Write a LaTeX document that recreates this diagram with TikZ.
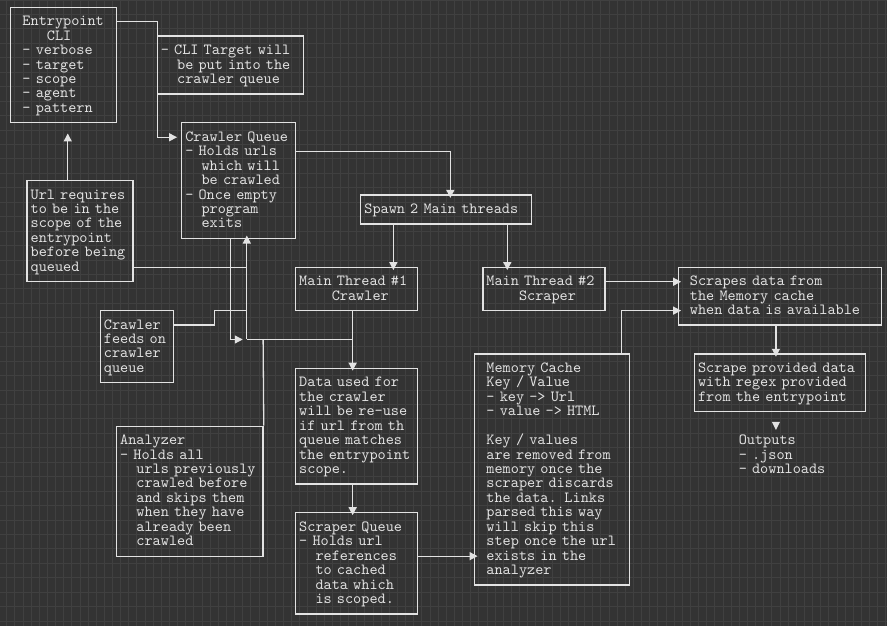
\documentclass[tikz,border=0pt]{standalone}
\usepackage{fontspec}
\newfontfamily\asciifont{lmmono10-regular.otf}
\usetikzlibrary{arrows.meta}
\definecolor{bgc}{RGB}{51,51,51}
\definecolor{gridc}{RGB}{64,64,64}
\definecolor{linec}{RGB}{226,226,226}
\definecolor{textc}{RGB}{226,226,226}
\newcommand\ls{\rule[-3.225pt]{0pt}{14.445pt}}
\newcommand\tl[1]{\hbox{\ls\smash{#1}}}
\newcommand\tli[1]{\hbox{\ls\hspace*{8.14pt}\smash{#1}}}
\newcommand\ind[1]{\hspace*{#1\dimexpr8.14pt\relax}}
\newcommand\lines[1]{\vbox{\offinterlineskip #1}}
\tikzset{
  box/.style={draw=linec, line width=1.3pt, inner xsep=3.57pt, inner ysep=0pt,
    align=left, text=textc, font=\asciifont\fontsize{15.5048pt}{14.445pt}\selectfont},
  plain/.style={inner xsep=0pt, inner ysep=0pt, align=left, text=textc,
    font=\asciifont\fontsize{15.5048pt}{14.445pt}\selectfont},
  arr/.style={draw=linec, line width=1.3pt, -{Triangle[length=8pt,width=8pt]}},
  con/.style={draw=linec, line width=1.3pt},
  gridline/.style={draw=gridc, line width=0.9pt}
}
\begin{document}
\begin{tikzpicture}[x=8.14pt, y=-14.445pt]
\useasboundingbox (-1.3231,-1.5023) rectangle (107.645,41.835);
\fill[bgc] (-1.3231,-1.5023) rectangle (107.645,41.835);
\foreach \i in {-0.5,0.5,...,107.6} \draw[gridline] (\i,-1.5023) -- (\i,41.835);
\foreach \j in {-1.5,-0.5,...,41.6} \draw[gridline] (-1.3231,\j) -- (107.645,\j);

% boxes
\node[box, text width=98.68pt, minimum height=115.56pt] (EP) at (6.5,3) {\lines{%
\tli{Entrypoint}
\tli{\ind{3}CLI}
\tli{- verbose}
\tli{- target}
\tli{- scope}
\tli{- agent}
\tli{- pattern}}};

\node[box, text width=139.38pt, minimum height=57.78pt] (CLI) at (27,3) {\lines{%
\tl{- CLI Target will}
\tl{\ind{2}be put into the}
\tl{\ind{2}crawler queue}}};

\node[box, text width=106.82pt, minimum height=115.56pt] (CQ) at (28,11) {\lines{%
\tl{Crawler Queue}
\tl{- Holds urls}
\tl{\ind{2}which will}
\tl{\ind{2}be crawled}
\tl{- Once empty}
\tl{\ind{2}program}
\tl{\ind{2}exits}}};

\node[box, text width=98.68pt, minimum height=101.115pt] (Url) at (8.5,14.5) {\lines{%
\tl{Url requires}
\tl{to be in the}
\tl{scope of the}
\tl{entrypoint}
\tl{before being}
\tl{queued}}};

\node[box, text width=66.12pt, minimum height=72.225pt] (Feeds) at (15.5,22.5) {\lines{%
\tl{Crawler}
\tl{feeds on}
\tl{crawler}
\tl{queue}}};

\node[box, text width=139.38pt, minimum height=130.005pt] (An) at (22,32.5) {\lines{%
\tl{Analyzer}
\tl{- Holds all}
\tl{\ind{2}urls previously}
\tl{\ind{2}crawled before}
\tl{\ind{2}and skips them}
\tl{\ind{2}when they have}
\tl{\ind{2}already been}
\tl{\ind{2}crawled}}};

\node[box, text width=163.8pt, minimum height=28.89pt] (Spawn) at (53.5,13) {\lines{%
\tl{Spawn 2 Main threads}}};

\node[box, text width=114.96pt, minimum height=43.335pt] (MT1) at (42.5,18.5) {\lines{%
\tl{Main Thread \#1}
\tl{\ind{4}Crawler}}};

\node[box, text width=114.96pt, minimum height=43.335pt] (MT2) at (65.5,18.5) {\lines{%
\tl{Main Thread \#2}
\tl{\ind{4}Scraper}}};

\node[box, text width=196.36pt, minimum height=57.78pt] (Scrapes) at (94.5,19) {\lines{%
\tli{Scrapes data from}
\tli{the Memory cache}
\tli{when data is available}}};

\node[box, text width=163.8pt, minimum height=57.78pt] (SP) at (94.5,25) {\lines{%
\tl{Scrape provided data}
\tl{with regex provided}
\tl{from the entrypoint}}};

\node[box, text width=114.96pt, minimum height=115.56pt] (Data) at (42.5,28) {\lines{%
\tl{Data used for}
\tl{the crawler}
\tl{will be re-use}
\tl{if url from th}
\tl{queue matches}
\tl{the entrypoint}
\tl{scope.}}};

\node[box, text width=114.96pt, minimum height=101.115pt] (SQ) at (42.5,37.5) {\lines{%
\tl{Scraper Queue}
\tl{- Holds url}
\tl{\ind{2}references}
\tl{\ind{2}to cached}
\tl{\ind{2}data which}
\tl{\ind{2}is scoped.}}};

\node[box, text width=147.52pt, minimum height=231.12pt] (Mem) at (66.5,31) {\lines{%
\tli{Memory Cache}
\tli{Key / Value}
\tli{- key -> Url}
\tli{- value -> HTML}
\tl{}
\tli{Key / values}
\tli{are removed from}
\tli{memory once the}
\tli{scraper discards}
\tli{the data. Links}
\tli{parsed this way}
\tli{will skip this}
\tli{step once the url}
\tli{exists in the}
\tli{analyzer}}};

\node[plain, text width=90.54pt, minimum height=43.335pt] (Out) at (95,30) {\lines{%
\tl{Outputs}
\tl{- .json}
\tl{- downloads}}};

% connectors
\coordinate (J) at (29,22);
\coordinate (K) at (42,22);
\draw[arr, shorten >=4pt] (EP.east |- 0,0) -- (18,0) -- (18,8) -- (CQ.west |- 0,8);
\draw[arr, shorten >=10pt] (Url.north -| 7,0) -- (EP.south -| 7,0);
\draw[arr, shorten >=-3.5pt] (CQ.east |- 0,9) -- (54,9) -- (Spawn.north -| 54,0);
\draw[arr, shorten >=-3.5pt] (Spawn.south -| 47,0) -- (MT1.north -| 47,0);
\draw[arr, shorten >=-3.5pt] (Spawn.south -| 61,0) -- (MT2.north -| 61,0);
\draw[arr, shorten >=-3.5pt] (MT2.east |- 0,18) -- (Scrapes.west |- 0,18);
\draw[arr, shorten >=-3.5pt] (Mem.north -| 75,0) -- (75,20) -- (Scrapes.west |- 0,20);
\draw[arr, shorten >=-3.5pt] (Scrapes.south -| 94,0) -- (SP.north -| 94,0);
\draw[arr, shorten >=-3pt] (MT1.south -| K) -- (Data.north -| K);
\draw[arr, shorten >=-3pt] (Data.south -| K) -- (SQ.north -| K);
\draw[arr, shorten >=-3.5pt] (SQ.east |- 0,37) -- (Mem.west |- 0,37);

\draw[arr, shorten >=4.07pt] (CQ.south -| 27,0) -- (27,22) -- (J);
\draw[arr, shorten >=-3.5pt] (J) -- (CQ.south -| J);
\draw[con] (Url.east |- 0,17) -- (J |- 0,17);
\draw[con] (Feeds.east |- 0,21) -- (25,21) -- (25,20) -- (J |- 0,20);
\draw[con] (J) -- (K);
\draw[con] (31,22) -- (An.north east);

% lone arrowhead above outputs
\fill[linec] (93.51,27.71) -- (94.49,27.71) -- (94,28.26) -- cycle;
\end{tikzpicture}
\end{document}
